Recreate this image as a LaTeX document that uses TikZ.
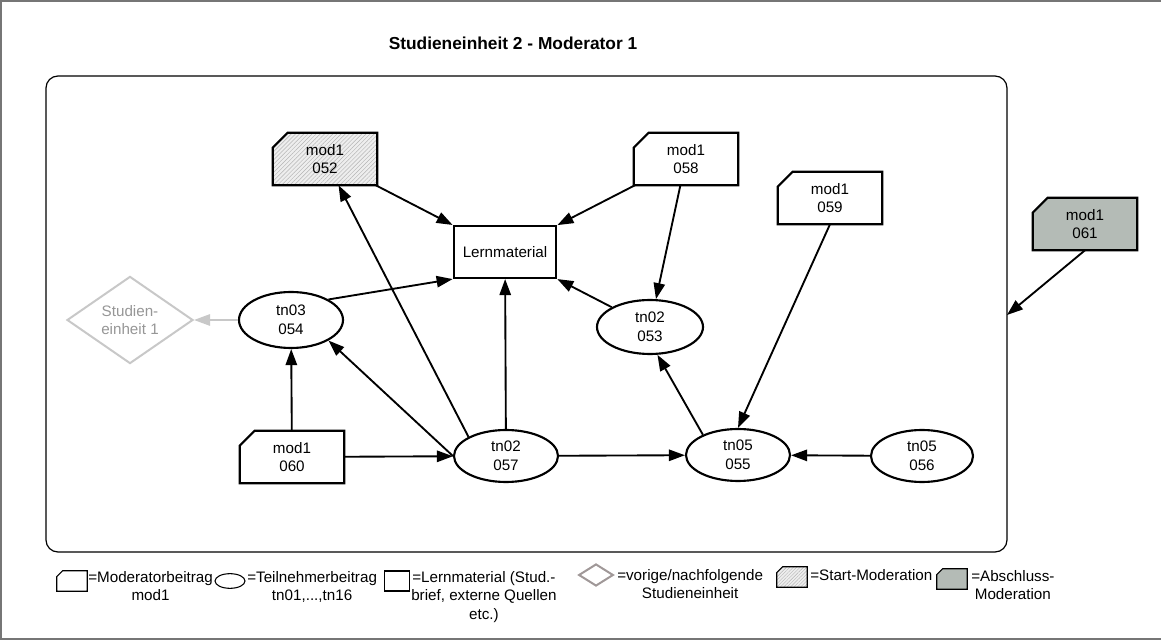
\documentclass[tikz,border=0pt]{standalone}
\usepackage{fontspec}
\setmainfont{Liberation Sans}
\usetikzlibrary{arrows.meta,shapes.geometric,patterns.meta}
\pgfdeclarelayer{bg}
\pgfsetlayers{bg,main}
\definecolor{framegray}{RGB}{118,118,118}
\definecolor{ghost}{RGB}{200,200,200}
\definecolor{ghosttext}{RGB}{150,150,150}
\definecolor{legdiamond}{RGB}{160,152,152}
\definecolor{endfill}{RGB}{180,187,182}
\definecolor{startfill}{RGB}{238,238,238}
\definecolor{hatch}{RGB}{180,180,180}

% outline of a contribution box: rectangle with the north-west corner cut off
\newcommand{\modframe}[3]{%
  \path[#3] (#1.south west) -- ([yshift=-#2]#1.north west) -- ([xshift=#2]#1.north west)
    -- (#1.north east) -- (#1.south east) -- cycle;}

\begin{document}
\begin{tikzpicture}[x=0.75pt,y=-0.75pt,
  font=\fontsize{11.4}{13.9}\selectfont,
  modbox/.style={rectangle, minimum width=78pt, minimum height=39pt, inner sep=0pt, align=center},
  tnbox/.style={ellipse, draw, line width=1.6pt, minimum width=78pt, minimum height=39pt, inner sep=0pt, align=center},
  lernbox/.style={rectangle, draw, line width=1.6pt, minimum width=77pt, minimum height=39pt, inner sep=0pt},
  modline/.style={draw, line width=1.6pt, fill=white},
  startline/.style={preaction={fill=startfill}, pattern={Lines[angle=45,distance=2.2pt,line width=0.35pt]}, pattern color=hatch, draw, line width=1.6pt},
  endline/.style={draw, line width=1.6pt, fill=endfill},
  link/.style={line width=1.4pt, -{Triangle[length=12pt,width=8.5pt]}},
  ghostlink/.style={link, draw=ghost},
  legicon/.style={rectangle, minimum width=22.5pt, minimum height=15pt, inner sep=0pt},
  legline/.style={draw, line width=0.8pt, fill=white},
  legstart/.style={preaction={fill=startfill}, pattern={Lines[angle=45,distance=1.8pt,line width=0.3pt]}, pattern color=hatch, draw, line width=0.8pt},
  legend/.style={draw, line width=0.8pt, fill=endfill},
  legtext/.style={anchor=north west, inner sep=0pt, align=center}]

\useasboundingbox (0,0) rectangle (1161,641);

% outer frame and inner group frame
\draw[framegray, line width=1.5pt] (1161,1) -- (1,1) -- (1,639) -- (1161,639);
\draw[line width=0.9pt, rounded corners=9pt] (46,76) rectangle (1007,552);
\coordinate (hit) at (1007,315);

\node[font=\fontsize{13}{15}\selectfont\bfseries] (title) at (513,43) {Studieneinheit 2 - Moderator 1};

% nodes
\node[modbox] (m052) at (325,159) {mod1\\052};
\node[modbox] (m058) at (686,159) {mod1\\058};
\node[modbox] (m059) at (830,198) {mod1\\059};
\node[modbox] (m061) at (1085,224) {mod1\\061};
\node[modbox] (m060) at (292,457) {mod1\\060};
\node[lernbox] (lern) at (505,252) {Lernmaterial};
\node[tnbox, minimum height=42pt] (t054) at (291,320) {tn03\\054};
\node[tnbox, minimum width=79.5pt, minimum height=40.5pt] (t053) at (650,327) {tn02\\053};
\node[tnbox] (t057) at (506,456) {tn02\\057};
\node[tnbox] (t055) at (738,455) {tn05\\055};
\node[tnbox, minimum width=76.5pt] (t056) at (922,456) {tn05\\056};
\node[diamond, draw=ghost, line width=1.5pt, text=ghosttext, align=center, inner sep=0pt,
      minimum width=94.5pt, minimum height=55.5pt] (d1) at (130,320) {Studien-\\einheit 1};

\begin{pgfonlayer}{bg}
  \modframe{m052}{11.25pt}{startline}
  \modframe{m058}{11.25pt}{modline}
  \modframe{m059}{11.25pt}{modline}
  \modframe{m060}{11.25pt}{modline}
  \modframe{m061}{11.25pt}{endline}
\end{pgfonlayer}

% connectors
\draw[link] (m052) -- (lern);
\draw[link] (m058) -- (lern);
\draw[link] (m058) -- (t053);
\draw[link] (t053) -- (lern);
\draw[link] (t054.north east) -- (lern.south west);
\draw[ghostlink] (t054) -- (d1);
\draw[link] (m060) -- (t054);
\draw[link] (m060) -- (t057);
\draw[link] (t057.north west) -- (m052);
\draw[link] (t057.west) -- (t054.south east);
\draw[link] (t057) -- (lern);
\draw[link] (t057) -- (t055);
\draw[link] (t055.150) -- (t053.285);
\draw[link] (m059.south) -- (t055.north);
\draw[link] (t056) -- (t055);
\draw[link] (m061.south) -- (hit);

% legend
\node[legicon] (lmod) at (72,581) {};
\node[ellipse, draw, line width=0.8pt, minimum width=22.5pt, minimum height=11pt, inner sep=0pt] (ltn) at (230,581) {};
\node[rectangle, draw, line width=0.8pt, minimum width=18.75pt, minimum height=15pt, inner sep=0pt] (lrect) at (397,581) {};
\node[diamond, draw=legdiamond, line width=1.5pt, minimum width=26pt, minimum height=16.5pt, inner sep=0pt] (ldia) at (596,575) {};
\node[legicon] (lstart) at (792,577) {};
\node[legicon] (lend) at (952,579) {};
\begin{pgfonlayer}{bg}
  \modframe{lmod}{4.5pt}{legline}
  \modframe{lstart}{4.5pt}{legstart}
  \modframe{lend}{4.5pt}{legend}
\end{pgfonlayer}
\node[legtext] (lt1) at (88,571) {=Moderatorbeitrag\\mod1};
\node[legtext] (lt2) at (247,571) {=Teilnehmerbeitrag\\tn01,...,tn16};
\node[legtext] (lt3) at (411,571) {=Lernmaterial (Stud.-\\brief, externe Quellen\\etc.)};
\node[legtext] (lt4) at (617,569) {=vorige/nachfolgende\\Studieneinheit};
\node[legtext] (lt5) at (810,569) {=Start-Moderation};
\node[legtext] (lt6) at (971,570) {=Abschluss-\\Moderation};
\end{tikzpicture}
\end{document}
